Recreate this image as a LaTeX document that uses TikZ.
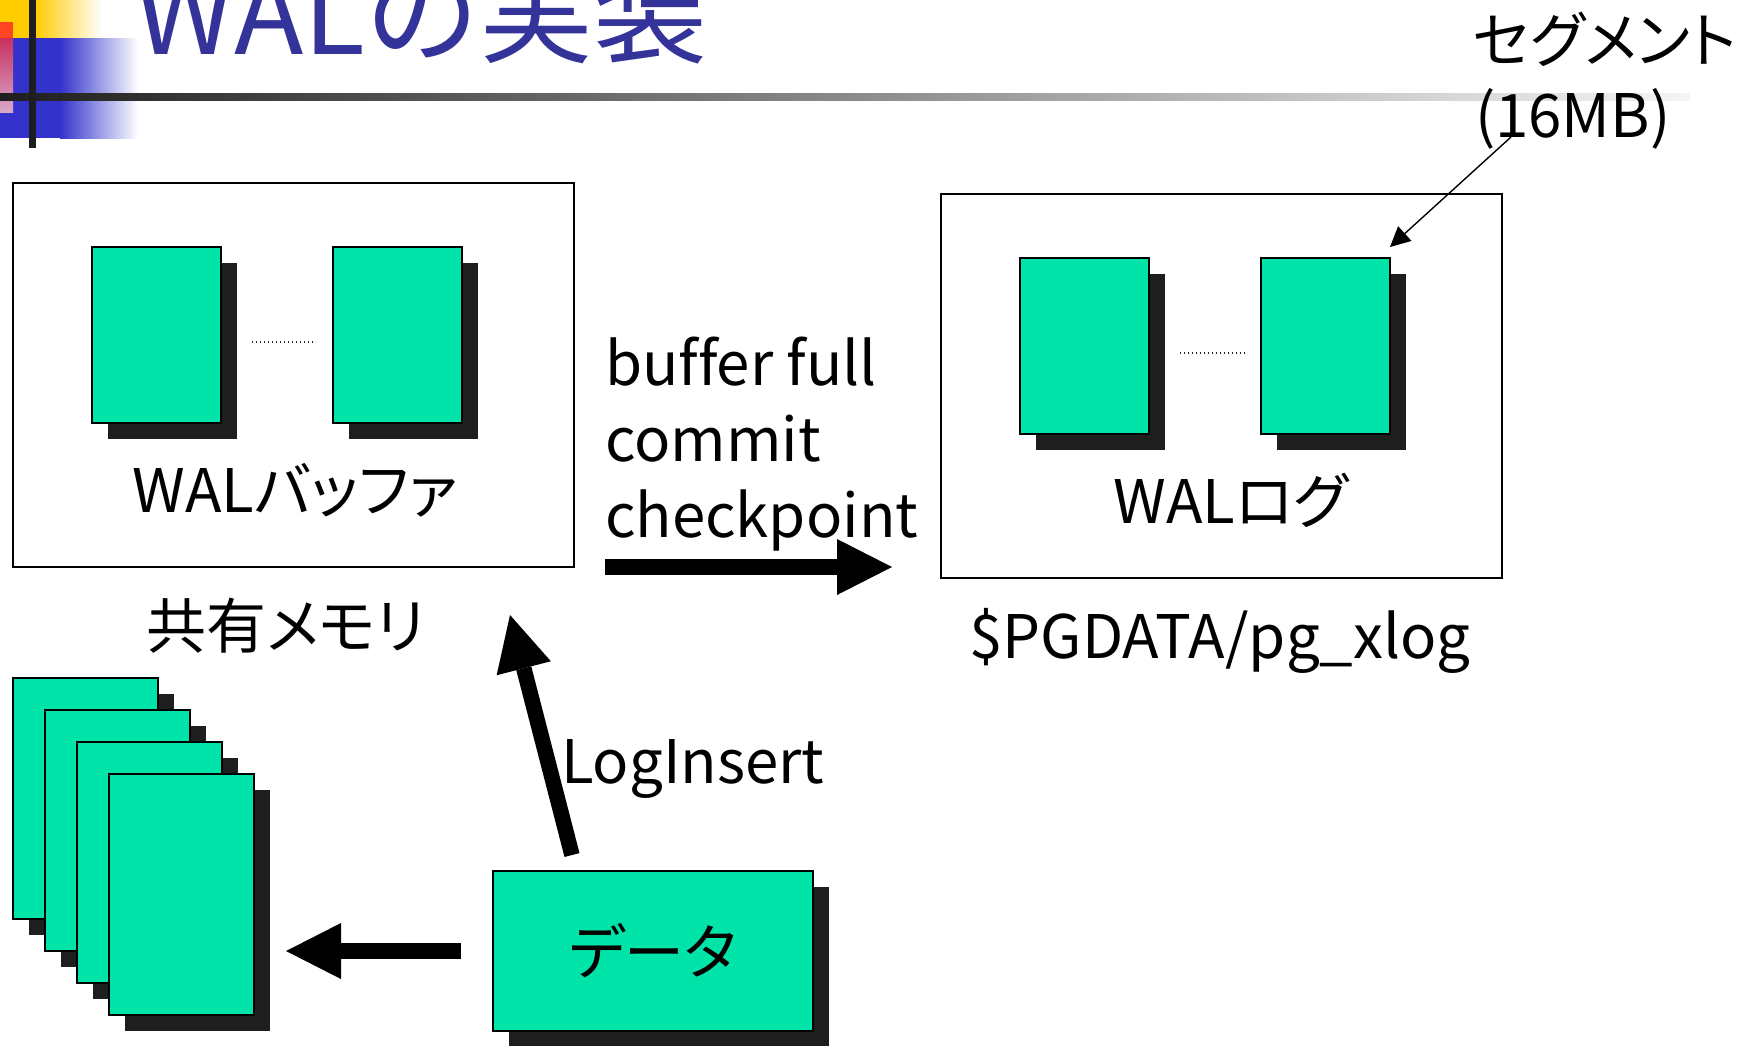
\documentclass[tikz,border=0pt]{standalone}
\usepackage{fontspec}
\setmainfont{Noto Sans CJK JP}[Ligatures=NoCommon]
\newfontfamily\pfont{Noto Sans CJK JP}[RawFeature=+palt, Ligatures=NoCommon]
\usetikzlibrary{arrows.meta,shadows,calc}
\definecolor{boxgreen}{RGB}{0,228,170}
\definecolor{shadowc}{RGB}{30,30,30}
\definecolor{titleblue}{RGB}{51,51,153}
\definecolor{decoyellow}{RGB}{255,204,0}
\definecolor{decoblue}{RGB}{51,51,204}
\definecolor{decored}{RGB}{255,68,34}
\definecolor{decopinktop}{RGB}{200,48,96}
\definecolor{decopinkbot}{RGB}{216,168,200}
\begin{document}
\begin{tikzpicture}[x=0.5pt,y=-0.5pt,
  container/.style={draw=black, line width=0.75pt, fill=white, minimum width=280.5pt, minimum height=192pt, anchor=north west, inner sep=0pt, outer sep=0pt},
  block/.style={draw=black, line width=0.8pt, fill=boxgreen, anchor=north west, inner sep=0pt, outer sep=0pt,
    drop shadow={shadow xshift=8pt, shadow yshift=-8pt, opacity=1, fill=shadowc}},
  segblock/.style={block, minimum width=64.5pt, minimum height=88pt},
  pageblock/.style={block, minimum width=72.5pt, minimum height=120.5pt},
  txt/.style={inner sep=0pt, outer sep=0pt, font=\fontsize{30pt}{38pt}\selectfont},
  ptxt/.style={inner sep=0pt, outer sep=0pt, font=\pfont\fontsize{30pt}{38pt}\selectfont},
  titletxt/.style={inner sep=0pt, outer sep=0pt, text=titleblue, font=\fontsize{57pt}{60pt}\selectfont},
  bigarrow/.style={draw=black, line width=7.75pt, -{Triangle[length=27.5pt, width=28pt, line width=0pt]}},
  dotline/.style={draw=black!85, line width=0.6pt, dash pattern=on 0.6pt off 1.4pt},
  thinarrow/.style={draw=black, line width=0.7pt, -{Triangle[length=10pt, width=10pt, line width=0pt]}}
]
\useasboundingbox (0,0) rectangle (1739,1045);
\fill[white] (0,0) rectangle (1739,1045);
% decoration
\fill[decoyellow] (0,0) rectangle (35,38);
\shade[left color=decoyellow, right color=white] (35,0) rectangle (102,38);
\fill[decoblue] (0,38) rectangle (60,138);
\shade[left color=decoblue, right color=white] (60,38) rectangle (138,138);
\fill[decored] (0,22) rectangle (13,38);
\shade[top color=decopinktop, bottom color=decopinkbot] (0,38) rectangle (13,112);
\shade[left color=black!88, middle color=black!30, right color=black!4] (0,93) rectangle (1690,100);
\fill[shadowc] (29,0) rectangle (36,148);
% title
\node[titletxt, anchor=base west] (title) at (134,54) {WALの実装};
% containers
\node[container] (wbufbox) at (13,183) {};
\node[container] (wlogbox) at (941,194) {};
% WAL buffer segments
\node[segblock] (g1) at (92,247) {};
\node[segblock] (g2) at (333,247) {};
\coordinate (d1) at (252,342);
\coordinate (d2) at (316,342);
\draw[dotline] (d1) -- (d2);
% WAL log segments
\node[segblock] (g3) at (1020,258) {};
\node[segblock] (g4) at (1261,258) {};
\coordinate (d3) at (1180,353);
\coordinate (d4) at (1245,353);
\draw[dotline] (d3) -- (d4);
% labels
\node[ptxt, anchor=base] (wbuflabel) at (295,512) {WALバッファ};
\node[ptxt, anchor=base] (shmlabel) at (286,648) {共有メモリ};
\node[ptxt, anchor=base] (wloglabel) at (1231,523) {WALログ};
\node[txt, anchor=base] (pgdata) at (1220,658) {\$PGDATA/pg\_xlog};
\node[ptxt, anchor=base west] (seg1) at (1473,62) {セグメント};
\node[txt, anchor=base west] (seg2) at (1475,137) {(16MB)};
\node[txt, anchor=base west, align=left] (trig) at (605,537) {buffer full\\commit\\checkpoint};
\node[txt, anchor=base west] (loginsert) at (561,783) {LogInsert};
% data pages
\node[pageblock] (p1) at (13,678) {};
\node[pageblock] (p2) at (45,710) {};
\node[pageblock] (p3) at (77,742) {};
\node[pageblock] (p4) at (109,774) {};
\node[block, minimum width=160pt, minimum height=80pt, font=\pfont\fontsize{30pt}{38pt}\selectfont] (data) at (493,871) {データ};
% arrows
\draw[thinarrow] ([xshift=18pt]seg2.base west) -- ([yshift=5.5pt]g4.north east);
\draw[bigarrow] ([xshift=15.5pt]wbufbox.south east) -- ([xshift=-24.5pt,yshift=5.5pt]wlogbox.south west);
\draw[bigarrow] ([xshift=39.5pt,yshift=8pt]data.north west) -- ([xshift=-32pt,yshift=-24pt]wbufbox.south east);
\draw[bigarrow, shorten <=16pt, shorten >=16pt] (data.west) -- (data.west -| p4.east);
\end{tikzpicture}
\end{document}
